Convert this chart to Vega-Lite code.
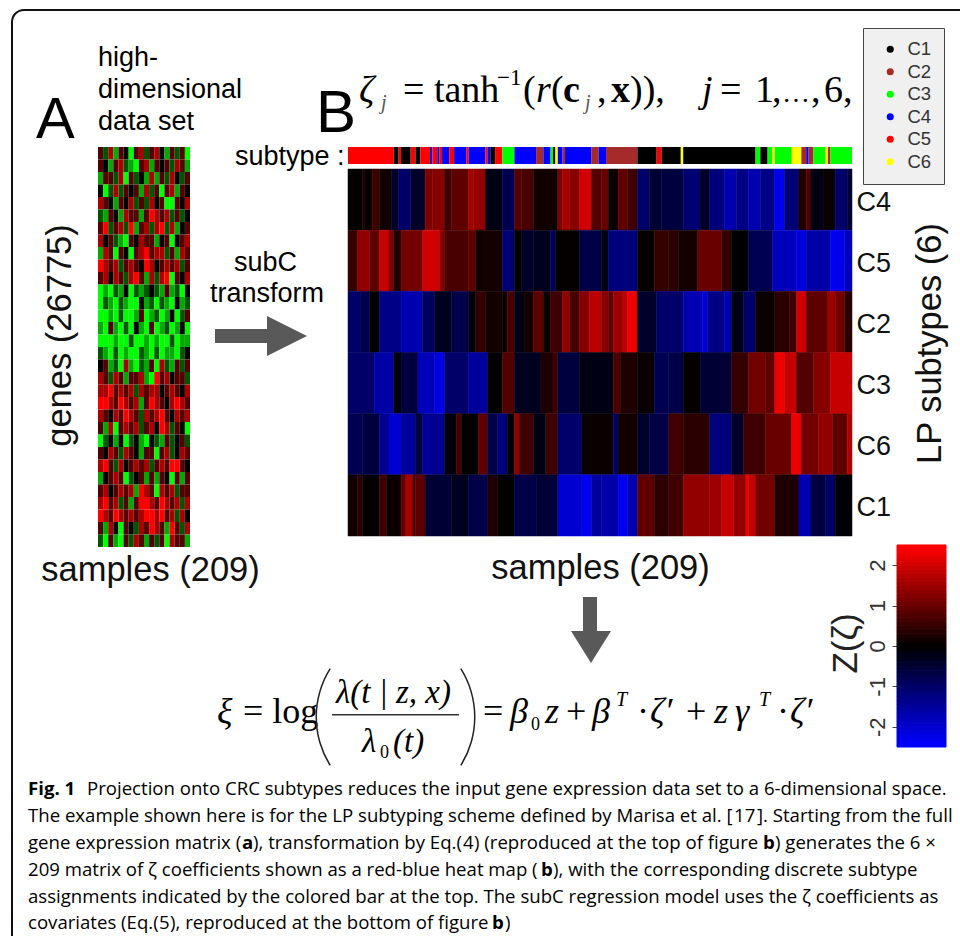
{"$schema":"https://vega.github.io/schema/vega-lite/v6.json","width":960,"height":936,"padding":0,"autosize":{"type":"none"},"background":"white",
"config":{"view":{"stroke":null},"style":{
"cap":{"font":"Open Sans","fontSize":18.6,"fill":"#444444","align":"left","baseline":"alphabetic"},
"capb":{"font":"Open Sans","fontSize":18.6,"fontWeight":"bold","fill":"#222","align":"left","baseline":"alphabetic"},
"capl":{"font":"Open Sans","fontSize":18.6,"fill":"#3355cc","align":"left","baseline":"alphabetic"},
"lab":{"font":"Liberation Sans","fontSize":27,"fill":"#111","align":"left","baseline":"alphabetic"},
"eq":{"font":"Liberation Serif","fontSize":38,"fill":"#111","align":"left","baseline":"alphabetic"},
"eqi":{"font":"Liberation Serif","fontStyle":"italic","fontSize":38,"fill":"#111","align":"left","baseline":"alphabetic"},
"eqb":{"font":"Liberation Serif","fontWeight":"bold","fontSize":38,"fill":"#111","align":"left","baseline":"alphabetic"}
}},
"data":{"values":[{}]},
"resolve":{"scale":{"x":"independent","y":"independent","color":"independent"}},
"layer":[
{"mark":{"type":"rect","x":12,"y":10,"x2":1000,"y2":1000,"cornerRadius":12,"fillOpacity":0,"stroke":"#111","strokeWidth":2},"encoding":{}},
{"data":{"values":[
{"g":1,"c":1,"v":1},{"g":1,"c":2,"v":-1},{"g":1,"c":3,"v":2},{"g":1,"c":4,"v":-2},{"g":1,"c":5,"v":1},{"g":1,"c":6,"v":0},{"g":1,"c":7,"v":-3},{"g":1,"c":8,"v":1},{"g":1,"c":9,"v":2},{"g":1,"c":10,"v":-1},{"g":1,"c":11,"v":1},{"g":1,"c":12,"v":2},{"g":1,"c":13,"v":0},{"g":1,"c":14,"v":-2},{"g":1,"c":15,"v":1},{"g":1,"c":16,"v":-1},{"g":1,"c":17,"v":1},{"g":1,"c":18,"v":-3},
{"g":2,"c":1,"v":1},{"g":2,"c":2,"v":0},{"g":2,"c":3,"v":-2},{"g":2,"c":4,"v":1},{"g":2,"c":5,"v":2},{"g":2,"c":6,"v":-1},{"g":2,"c":7,"v":-2},{"g":2,"c":8,"v":-3},{"g":2,"c":9,"v":1},{"g":2,"c":10,"v":2},{"g":2,"c":11,"v":-2},{"g":2,"c":12,"v":1},{"g":2,"c":13,"v":0},{"g":2,"c":14,"v":1},{"g":2,"c":15,"v":-1},{"g":2,"c":16,"v":2},{"g":2,"c":17,"v":1},{"g":2,"c":18,"v":-2},
{"g":3,"c":1,"v":-2},{"g":3,"c":2,"v":1},{"g":3,"c":3,"v":1},{"g":3,"c":4,"v":-1},{"g":3,"c":5,"v":2},{"g":3,"c":6,"v":-3},{"g":3,"c":7,"v":1},{"g":3,"c":8,"v":-1},{"g":3,"c":9,"v":0},{"g":3,"c":10,"v":-2},{"g":3,"c":11,"v":2},{"g":3,"c":12,"v":-2},{"g":3,"c":13,"v":1},{"g":3,"c":14,"v":-1},{"g":3,"c":15,"v":2},{"g":3,"c":16,"v":0},{"g":3,"c":17,"v":-1},{"g":3,"c":18,"v":1},
{"g":4,"c":1,"v":0},{"g":4,"c":2,"v":-3},{"g":4,"c":3,"v":-1},{"g":4,"c":4,"v":2},{"g":4,"c":5,"v":-1},{"g":4,"c":6,"v":1},{"g":4,"c":7,"v":0},{"g":4,"c":8,"v":1},{"g":4,"c":9,"v":-2},{"g":4,"c":10,"v":2},{"g":4,"c":11,"v":-1},{"g":4,"c":12,"v":1},{"g":4,"c":13,"v":-3},{"g":4,"c":14,"v":1},{"g":4,"c":15,"v":2},{"g":4,"c":16,"v":-2},{"g":4,"c":17,"v":1},{"g":4,"c":18,"v":0},
{"g":5,"c":1,"v":2},{"g":5,"c":2,"v":1},{"g":5,"c":3,"v":0},{"g":5,"c":4,"v":-2},{"g":5,"c":5,"v":1},{"g":5,"c":6,"v":0},{"g":5,"c":7,"v":2},{"g":5,"c":8,"v":-1},{"g":5,"c":9,"v":1},{"g":5,"c":10,"v":-1},{"g":5,"c":11,"v":2},{"g":5,"c":12,"v":0},{"g":5,"c":13,"v":1},{"g":5,"c":14,"v":-3},{"g":5,"c":15,"v":-3},{"g":5,"c":16,"v":1},{"g":5,"c":17,"v":0},{"g":5,"c":18,"v":2},
{"g":6,"c":1,"v":-1},{"g":6,"c":2,"v":-2},{"g":6,"c":3,"v":1},{"g":6,"c":4,"v":0},{"g":6,"c":5,"v":-2},{"g":6,"c":6,"v":2},{"g":6,"c":7,"v":1},{"g":6,"c":8,"v":1},{"g":6,"c":9,"v":-2},{"g":6,"c":10,"v":1},{"g":6,"c":11,"v":3},{"g":6,"c":12,"v":2},{"g":6,"c":13,"v":1},{"g":6,"c":14,"v":2},{"g":6,"c":15,"v":-1},{"g":6,"c":16,"v":1},{"g":6,"c":17,"v":-1},{"g":6,"c":18,"v":0},
{"g":7,"c":1,"v":1},{"g":7,"c":2,"v":3},{"g":7,"c":3,"v":-1},{"g":7,"c":4,"v":1},{"g":7,"c":5,"v":2},{"g":7,"c":6,"v":-1},{"g":7,"c":7,"v":3},{"g":7,"c":8,"v":-2},{"g":7,"c":9,"v":1},{"g":7,"c":10,"v":2},{"g":7,"c":11,"v":-1},{"g":7,"c":12,"v":2},{"g":7,"c":13,"v":3},{"g":7,"c":14,"v":-1},{"g":7,"c":15,"v":2},{"g":7,"c":16,"v":-2},{"g":7,"c":17,"v":0},{"g":7,"c":18,"v":1},
{"g":8,"c":1,"v":2},{"g":8,"c":2,"v":0},{"g":8,"c":3,"v":1},{"g":8,"c":4,"v":-1},{"g":8,"c":5,"v":-2},{"g":8,"c":6,"v":-3},{"g":8,"c":7,"v":1},{"g":8,"c":8,"v":0},{"g":8,"c":9,"v":2},{"g":8,"c":10,"v":1},{"g":8,"c":11,"v":1},{"g":8,"c":12,"v":-2},{"g":8,"c":13,"v":0},{"g":8,"c":14,"v":1},{"g":8,"c":15,"v":-3},{"g":8,"c":16,"v":0},{"g":8,"c":17,"v":1},{"g":8,"c":18,"v":2},
{"g":9,"c":1,"v":-2},{"g":9,"c":2,"v":2},{"g":9,"c":3,"v":1},{"g":9,"c":4,"v":-3},{"g":9,"c":5,"v":1},{"g":9,"c":6,"v":0},{"g":9,"c":7,"v":-3},{"g":9,"c":8,"v":1},{"g":9,"c":9,"v":2},{"g":9,"c":10,"v":3},{"g":9,"c":11,"v":1},{"g":9,"c":12,"v":2},{"g":9,"c":13,"v":2},{"g":9,"c":14,"v":-1},{"g":9,"c":15,"v":1},{"g":9,"c":16,"v":-2},{"g":9,"c":17,"v":2},{"g":9,"c":18,"v":1},
{"g":10,"c":1,"v":3},{"g":10,"c":2,"v":2},{"g":10,"c":3,"v":1},{"g":10,"c":4,"v":2},{"g":10,"c":5,"v":-1},{"g":10,"c":6,"v":1},{"g":10,"c":7,"v":2},{"g":10,"c":8,"v":1},{"g":10,"c":9,"v":0},{"g":10,"c":10,"v":3},{"g":10,"c":11,"v":2},{"g":10,"c":12,"v":0},{"g":10,"c":13,"v":1},{"g":10,"c":14,"v":2},{"g":10,"c":15,"v":1},{"g":10,"c":16,"v":2},{"g":10,"c":17,"v":-1},{"g":10,"c":18,"v":1},
{"g":11,"c":1,"v":1},{"g":11,"c":2,"v":2},{"g":11,"c":3,"v":0},{"g":11,"c":4,"v":2},{"g":11,"c":5,"v":1},{"g":11,"c":6,"v":-1},{"g":11,"c":7,"v":2},{"g":11,"c":8,"v":3},{"g":11,"c":9,"v":1},{"g":11,"c":10,"v":-2},{"g":11,"c":11,"v":2},{"g":11,"c":12,"v":-1},{"g":11,"c":13,"v":2},{"g":11,"c":14,"v":3},{"g":11,"c":15,"v":-3},{"g":11,"c":16,"v":1},{"g":11,"c":17,"v":0},{"g":11,"c":18,"v":2},
{"g":12,"c":1,"v":-3},{"g":12,"c":2,"v":-2},{"g":12,"c":3,"v":-3},{"g":12,"c":4,"v":-1},{"g":12,"c":5,"v":-2},{"g":12,"c":6,"v":0},{"g":12,"c":7,"v":-3},{"g":12,"c":8,"v":-1},{"g":12,"c":9,"v":-2},{"g":12,"c":10,"v":-1},{"g":12,"c":11,"v":0},{"g":12,"c":12,"v":-1},{"g":12,"c":13,"v":-2},{"g":12,"c":14,"v":1},{"g":12,"c":15,"v":-2},{"g":12,"c":16,"v":-1},{"g":12,"c":17,"v":-3},{"g":12,"c":18,"v":0},
{"g":13,"c":1,"v":-3},{"g":13,"c":2,"v":-1},{"g":13,"c":3,"v":-2},{"g":13,"c":4,"v":-3},{"g":13,"c":5,"v":-1},{"g":13,"c":6,"v":-2},{"g":13,"c":7,"v":-3},{"g":13,"c":8,"v":-3},{"g":13,"c":9,"v":0},{"g":13,"c":10,"v":-2},{"g":13,"c":11,"v":-1},{"g":13,"c":12,"v":-3},{"g":13,"c":13,"v":-1},{"g":13,"c":14,"v":-2},{"g":13,"c":15,"v":-3},{"g":13,"c":16,"v":0},{"g":13,"c":17,"v":-2},{"g":13,"c":18,"v":-1},
{"g":14,"c":1,"v":-3},{"g":14,"c":2,"v":-3},{"g":14,"c":3,"v":-2},{"g":14,"c":4,"v":-3},{"g":14,"c":5,"v":-1},{"g":14,"c":6,"v":-3},{"g":14,"c":7,"v":-3},{"g":14,"c":8,"v":-2},{"g":14,"c":9,"v":1},{"g":14,"c":10,"v":-3},{"g":14,"c":11,"v":-2},{"g":14,"c":12,"v":-1},{"g":14,"c":13,"v":-3},{"g":14,"c":14,"v":-2},{"g":14,"c":15,"v":0},{"g":14,"c":16,"v":-3},{"g":14,"c":17,"v":-1},{"g":14,"c":18,"v":1},
{"g":15,"c":1,"v":-2},{"g":15,"c":2,"v":-3},{"g":15,"c":3,"v":1},{"g":15,"c":4,"v":-2},{"g":15,"c":5,"v":-3},{"g":15,"c":6,"v":-1},{"g":15,"c":7,"v":-3},{"g":15,"c":8,"v":0},{"g":15,"c":9,"v":-2},{"g":15,"c":10,"v":-3},{"g":15,"c":11,"v":1},{"g":15,"c":12,"v":-3},{"g":15,"c":13,"v":-2},{"g":15,"c":14,"v":-1},{"g":15,"c":15,"v":-3},{"g":15,"c":16,"v":-2},{"g":15,"c":17,"v":0},{"g":15,"c":18,"v":-3},
{"g":16,"c":1,"v":-3},{"g":16,"c":2,"v":-3},{"g":16,"c":3,"v":-3},{"g":16,"c":4,"v":-2},{"g":16,"c":5,"v":-3},{"g":16,"c":6,"v":-3},{"g":16,"c":7,"v":-1},{"g":16,"c":8,"v":-3},{"g":16,"c":9,"v":-3},{"g":16,"c":10,"v":-2},{"g":16,"c":11,"v":-3},{"g":16,"c":12,"v":-2},{"g":16,"c":13,"v":-3},{"g":16,"c":14,"v":-3},{"g":16,"c":15,"v":-1},{"g":16,"c":16,"v":-3},{"g":16,"c":17,"v":-2},{"g":16,"c":18,"v":-2},
{"g":17,"c":1,"v":-1},{"g":17,"c":2,"v":-2},{"g":17,"c":3,"v":-3},{"g":17,"c":4,"v":-1},{"g":17,"c":5,"v":-3},{"g":17,"c":6,"v":-2},{"g":17,"c":7,"v":-3},{"g":17,"c":8,"v":-3},{"g":17,"c":9,"v":-1},{"g":17,"c":10,"v":-2},{"g":17,"c":11,"v":-3},{"g":17,"c":12,"v":-1},{"g":17,"c":13,"v":-3},{"g":17,"c":14,"v":-2},{"g":17,"c":15,"v":-2},{"g":17,"c":16,"v":-3},{"g":17,"c":17,"v":-1},{"g":17,"c":18,"v":0},
{"g":18,"c":1,"v":0},{"g":18,"c":2,"v":1},{"g":18,"c":3,"v":-2},{"g":18,"c":4,"v":-1},{"g":18,"c":5,"v":-3},{"g":18,"c":6,"v":2},{"g":18,"c":7,"v":-2},{"g":18,"c":8,"v":-3},{"g":18,"c":9,"v":-1},{"g":18,"c":10,"v":-2},{"g":18,"c":11,"v":1},{"g":18,"c":12,"v":-3},{"g":18,"c":13,"v":2},{"g":18,"c":14,"v":-1},{"g":18,"c":15,"v":-2},{"g":18,"c":16,"v":1},{"g":18,"c":17,"v":-1},{"g":18,"c":18,"v":1},
{"g":19,"c":1,"v":2},{"g":19,"c":2,"v":1},{"g":19,"c":3,"v":-1},{"g":19,"c":4,"v":2},{"g":19,"c":5,"v":1},{"g":19,"c":6,"v":-2},{"g":19,"c":7,"v":1},{"g":19,"c":8,"v":1},{"g":19,"c":9,"v":2},{"g":19,"c":10,"v":-2},{"g":19,"c":11,"v":-3},{"g":19,"c":12,"v":3},{"g":19,"c":13,"v":1},{"g":19,"c":14,"v":2},{"g":19,"c":15,"v":0},{"g":19,"c":16,"v":1},{"g":19,"c":17,"v":1},{"g":19,"c":18,"v":-1},
{"g":20,"c":1,"v":2},{"g":20,"c":2,"v":2},{"g":20,"c":3,"v":3},{"g":20,"c":4,"v":1},{"g":20,"c":5,"v":2},{"g":20,"c":6,"v":1},{"g":20,"c":7,"v":2},{"g":20,"c":8,"v":-1},{"g":20,"c":9,"v":2},{"g":20,"c":10,"v":1},{"g":20,"c":11,"v":2},{"g":20,"c":12,"v":2},{"g":20,"c":13,"v":0},{"g":20,"c":14,"v":1},{"g":20,"c":15,"v":2},{"g":20,"c":16,"v":1},{"g":20,"c":17,"v":0},{"g":20,"c":18,"v":2},
{"g":21,"c":1,"v":3},{"g":21,"c":2,"v":3},{"g":21,"c":3,"v":2},{"g":21,"c":4,"v":1},{"g":21,"c":5,"v":3},{"g":21,"c":6,"v":2},{"g":21,"c":7,"v":1},{"g":21,"c":8,"v":2},{"g":21,"c":9,"v":-2},{"g":21,"c":10,"v":1},{"g":21,"c":11,"v":3},{"g":21,"c":12,"v":2},{"g":21,"c":13,"v":1},{"g":21,"c":14,"v":0},{"g":21,"c":15,"v":2},{"g":21,"c":16,"v":3},{"g":21,"c":17,"v":2},{"g":21,"c":18,"v":1},
{"g":22,"c":1,"v":2},{"g":22,"c":2,"v":1},{"g":22,"c":3,"v":0},{"g":22,"c":4,"v":2},{"g":22,"c":5,"v":1},{"g":22,"c":6,"v":3},{"g":22,"c":7,"v":2},{"g":22,"c":8,"v":1},{"g":22,"c":9,"v":-1},{"g":22,"c":10,"v":2},{"g":22,"c":11,"v":1},{"g":22,"c":12,"v":2},{"g":22,"c":13,"v":3},{"g":22,"c":14,"v":1},{"g":22,"c":15,"v":0},{"g":22,"c":16,"v":2},{"g":22,"c":17,"v":1},{"g":22,"c":18,"v":2},
{"g":23,"c":1,"v":1},{"g":23,"c":2,"v":-2},{"g":23,"c":3,"v":2},{"g":23,"c":4,"v":-3},{"g":23,"c":5,"v":1},{"g":23,"c":6,"v":2},{"g":23,"c":7,"v":1},{"g":23,"c":8,"v":2},{"g":23,"c":9,"v":-1},{"g":23,"c":10,"v":1},{"g":23,"c":11,"v":2},{"g":23,"c":12,"v":0},{"g":23,"c":13,"v":3},{"g":23,"c":14,"v":2},{"g":23,"c":15,"v":-1},{"g":23,"c":16,"v":1},{"g":23,"c":17,"v":0},{"g":23,"c":18,"v":-3},
{"g":24,"c":1,"v":-3},{"g":24,"c":2,"v":-1},{"g":24,"c":3,"v":0},{"g":24,"c":4,"v":-2},{"g":24,"c":5,"v":0},{"g":24,"c":6,"v":-3},{"g":24,"c":7,"v":-1},{"g":24,"c":8,"v":0},{"g":24,"c":9,"v":-2},{"g":24,"c":10,"v":-3},{"g":24,"c":11,"v":0},{"g":24,"c":12,"v":-1},{"g":24,"c":13,"v":-2},{"g":24,"c":14,"v":1},{"g":24,"c":15,"v":-1},{"g":24,"c":16,"v":0},{"g":24,"c":17,"v":1},{"g":24,"c":18,"v":-1},
{"g":25,"c":1,"v":1},{"g":25,"c":2,"v":0},{"g":25,"c":3,"v":2},{"g":25,"c":4,"v":1},{"g":25,"c":5,"v":-1},{"g":25,"c":6,"v":2},{"g":25,"c":7,"v":1},{"g":25,"c":8,"v":0},{"g":25,"c":9,"v":-2},{"g":25,"c":10,"v":1},{"g":25,"c":11,"v":1},{"g":25,"c":12,"v":-3},{"g":25,"c":13,"v":1},{"g":25,"c":14,"v":2},{"g":25,"c":15,"v":-1},{"g":25,"c":16,"v":0},{"g":25,"c":17,"v":2},{"g":25,"c":18,"v":1},
{"g":26,"c":1,"v":2},{"g":26,"c":2,"v":3},{"g":26,"c":3,"v":1},{"g":26,"c":4,"v":-1},{"g":26,"c":5,"v":2},{"g":26,"c":6,"v":0},{"g":26,"c":7,"v":1},{"g":26,"c":8,"v":2},{"g":26,"c":9,"v":1},{"g":26,"c":10,"v":2},{"g":26,"c":11,"v":-1},{"g":26,"c":12,"v":1},{"g":26,"c":13,"v":2},{"g":26,"c":14,"v":1},{"g":26,"c":15,"v":3},{"g":26,"c":16,"v":3},{"g":26,"c":17,"v":1},{"g":26,"c":18,"v":0},
{"g":27,"c":1,"v":-2},{"g":27,"c":2,"v":0},{"g":27,"c":3,"v":1},{"g":27,"c":4,"v":2},{"g":27,"c":5,"v":1},{"g":27,"c":6,"v":-3},{"g":27,"c":7,"v":-1},{"g":27,"c":8,"v":0},{"g":27,"c":9,"v":1},{"g":27,"c":10,"v":-2},{"g":27,"c":11,"v":1},{"g":27,"c":12,"v":-2},{"g":27,"c":13,"v":1},{"g":27,"c":14,"v":0},{"g":27,"c":15,"v":-3},{"g":27,"c":16,"v":1},{"g":27,"c":17,"v":-2},{"g":27,"c":18,"v":1},
{"g":28,"c":1,"v":1},{"g":28,"c":2,"v":2},{"g":28,"c":3,"v":0},{"g":28,"c":4,"v":1},{"g":28,"c":5,"v":2},{"g":28,"c":6,"v":1},{"g":28,"c":7,"v":2},{"g":28,"c":8,"v":-2},{"g":28,"c":9,"v":3},{"g":28,"c":10,"v":2},{"g":28,"c":11,"v":1},{"g":28,"c":12,"v":-3},{"g":28,"c":13,"v":2},{"g":28,"c":14,"v":1},{"g":28,"c":15,"v":2},{"g":28,"c":16,"v":-1},{"g":28,"c":17,"v":1},{"g":28,"c":18,"v":1},
{"g":29,"c":1,"v":2},{"g":29,"c":2,"v":3},{"g":29,"c":3,"v":1},{"g":29,"c":4,"v":2},{"g":29,"c":5,"v":-1},{"g":29,"c":6,"v":1},{"g":29,"c":7,"v":-2},{"g":29,"c":8,"v":1},{"g":29,"c":9,"v":3},{"g":29,"c":10,"v":3},{"g":29,"c":11,"v":2},{"g":29,"c":12,"v":1},{"g":29,"c":13,"v":3},{"g":29,"c":14,"v":2},{"g":29,"c":15,"v":1},{"g":29,"c":16,"v":2},{"g":29,"c":17,"v":-1},{"g":29,"c":18,"v":2},
{"g":30,"c":1,"v":3},{"g":30,"c":2,"v":2},{"g":30,"c":3,"v":1},{"g":30,"c":4,"v":3},{"g":30,"c":5,"v":2},{"g":30,"c":6,"v":1},{"g":30,"c":7,"v":2},{"g":30,"c":8,"v":1},{"g":30,"c":9,"v":2},{"g":30,"c":10,"v":3},{"g":30,"c":11,"v":3},{"g":30,"c":12,"v":2},{"g":30,"c":13,"v":3},{"g":30,"c":14,"v":1},{"g":30,"c":15,"v":2},{"g":30,"c":16,"v":-1},{"g":30,"c":17,"v":2},{"g":30,"c":18,"v":0},
{"g":31,"c":1,"v":1},{"g":31,"c":2,"v":-2},{"g":31,"c":3,"v":2},{"g":31,"c":4,"v":0},{"g":31,"c":5,"v":-3},{"g":31,"c":6,"v":1},{"g":31,"c":7,"v":0},{"g":31,"c":8,"v":-1},{"g":31,"c":9,"v":2},{"g":31,"c":10,"v":1},{"g":31,"c":11,"v":3},{"g":31,"c":12,"v":2},{"g":31,"c":13,"v":1},{"g":31,"c":14,"v":-2},{"g":31,"c":15,"v":3},{"g":31,"c":16,"v":1},{"g":31,"c":17,"v":-1},{"g":31,"c":18,"v":2},
{"g":32,"c":1,"v":-1},{"g":32,"c":2,"v":-3},{"g":32,"c":3,"v":1},{"g":32,"c":4,"v":-2},{"g":32,"c":5,"v":-3},{"g":32,"c":6,"v":1},{"g":32,"c":7,"v":-1},{"g":32,"c":8,"v":2},{"g":32,"c":9,"v":1},{"g":32,"c":10,"v":-2},{"g":32,"c":11,"v":1},{"g":32,"c":12,"v":-1},{"g":32,"c":13,"v":1},{"g":32,"c":14,"v":-3},{"g":32,"c":15,"v":2},{"g":32,"c":16,"v":1},{"g":32,"c":17,"v":1},{"g":32,"c":18,"v":-2}
]},"mark":{"type":"rect"},"encoding":{
"x":{"field":"c","type":"ordinal","scale":{"range":[98,190],"paddingInner":0,"paddingOuter":0},"axis":{"orient":"bottom","offset":-389,"domain":false,"ticks":false,"labels":false,"title":"samples (209)","titleFont":"Liberation Sans","titleFontWeight":"normal","titleFontSize":34.5,"titleColor":"#111","titleX":150,"titleY":23,"titleBaseline":"middle","titleAlign":"center"}},
"y":{"field":"g","type":"ordinal","scale":{"range":[147,547],"paddingInner":0,"paddingOuter":0},"axis":{"orient":"left","offset":-98,"domain":false,"ticks":false,"labels":false,"title":"genes (26775)","titleFont":"Liberation Sans","titleFontWeight":"normal","titleFontSize":34.5,"titleColor":"#111","titleX":-38,"titleY":335,"titleAngle":-90,"titleBaseline":"middle","titleAlign":"center"}},
"color":{"field":"v","type":"quantitative","scale":{"domain":[-3,0,3],"range":["#00ff00","#000000","#ff0000"],"interpolate":"rgb"},"legend":null}}},
{"data":{"values":[
{"t":"C5","a":0,"b":19},{"t":"C1","a":19,"b":21},{"t":"C5","a":21,"b":22},{"t":"C1","a":22,"b":26},{"t":"C5","a":26,"b":28},{"t":"C1","a":28,"b":30},{"t":"C5","a":30,"b":34},{"t":"C4","a":34,"b":35},{"t":"C5","a":35,"b":37},{"t":"C4","a":37,"b":38},{"t":"C5","a":38,"b":39},{"t":"C4","a":39,"b":42},{"t":"C5","a":42,"b":44},{"t":"C4","a":44,"b":49},{"t":"C5","a":49,"b":50},{"t":"C4","a":50,"b":57},{"t":"C5","a":57,"b":58},{"t":"C4","a":58,"b":59},{"t":"C1","a":59,"b":61},{"t":"C5","a":61,"b":64},{"t":"C3","a":64,"b":69},{"t":"C4","a":69,"b":78},{"t":"C2","a":78,"b":81},{"t":"C4","a":81,"b":84},{"t":"C3","a":84,"b":85},{"t":"C1","a":85,"b":86},{"t":"C6","a":86,"b":87},{"t":"C4","a":87,"b":89},{"t":"C2","a":89,"b":90},{"t":"C4","a":90,"b":101},{"t":"C2","a":101,"b":104},{"t":"C4","a":104,"b":107},{"t":"C2","a":107,"b":120},{"t":"C1","a":120,"b":128},{"t":"C5","a":128,"b":130},{"t":"C1","a":130,"b":138},{"t":"C6","a":138,"b":139},{"t":"C1","a":139,"b":169},{"t":"C3","a":169,"b":171},{"t":"C1","a":171,"b":174},{"t":"C3","a":174,"b":176},{"t":"C6","a":176,"b":177},{"t":"C3","a":177,"b":184},{"t":"C6","a":184,"b":188},{"t":"C2","a":188,"b":190},{"t":"C4","a":190,"b":191},{"t":"C2","a":191,"b":193},{"t":"C3","a":193,"b":198},{"t":"C6","a":198,"b":199},{"t":"C2","a":199,"b":200},{"t":"C3","a":200,"b":209}
]},"mark":{"type":"rect"},"encoding":{
"x":{"field":"a","type":"quantitative","scale":{"domain":[0,209],"range":[348,852],"nice":false,"zero":false},"axis":null},"x2":{"field":"b"},
"y":{"datum":"bar","type":"nominal","scale":{"domain":["bar"],"range":[147,164],"paddingInner":0,"paddingOuter":0},"axis":null},
"color":{"field":"t","type":"nominal","scale":{"domain":["C1","C2","C3","C4","C5","C6"],"range":["#000000","#a52a2a","#00ff00","#0000ff","#ff0000","#ffff00"]},
"legend":{"orient":"none","legendX":863,"legendY":28,"title":null,"padding":12,"fillColor":"#f0f0f0","strokeColor":"#444","symbolType":"circle","symbolSize":50,"symbolOffset":6,"labelFont":"Liberation Sans","labelFontSize":18.5,"labelColor":"#333","labelOffset":8,"rowPadding":3.5}}}},
{"data":{"values":[
{"r":"C4","a":0,"b":6,"z":0.05},{"r":"C4","a":6,"b":7,"z":0.25},{"r":"C4","a":7,"b":10,"z":0.1},{"r":"C4","a":10,"b":13,"z":0.6},{"r":"C4","a":13,"b":18,"z":0.15},{"r":"C4","a":18,"b":21,"z":-0.4},{"r":"C4","a":21,"b":26,"z":-1},{"r":"C4","a":26,"b":32,"z":-0.4},{"r":"C4","a":32,"b":35,"z":1.2},{"r":"C4","a":35,"b":40,"z":1.3},{"r":"C4","a":40,"b":43,"z":0.6},{"r":"C4","a":43,"b":50,"z":0.9},{"r":"C4","a":50,"b":52,"z":1.6},{"r":"C4","a":52,"b":57,"z":1.4},{"r":"C4","a":57,"b":64,"z":-0.2},{"r":"C4","a":64,"b":69,"z":-0.8},{"r":"C4","a":69,"b":72,"z":0.8},{"r":"C4","a":72,"b":77,"z":0.7},{"r":"C4","a":77,"b":87,"z":0.15},{"r":"C4","a":87,"b":89,"z":1.2},{"r":"C4","a":89,"b":92,"z":1.6},{"r":"C4","a":92,"b":96,"z":1.3},{"r":"C4","a":96,"b":101,"z":2},{"r":"C4","a":101,"b":105,"z":0.8},{"r":"C4","a":105,"b":108,"z":1},{"r":"C4","a":108,"b":112,"z":0.1},{"r":"C4","a":112,"b":116,"z":0.9},{"r":"C4","a":116,"b":120,"z":0.6},{"r":"C4","a":120,"b":125,"z":-1},{"r":"C4","a":125,"b":130,"z":-0.5},{"r":"C4","a":130,"b":139,"z":-0.6},{"r":"C4","a":139,"b":146,"z":-1.1},{"r":"C4","a":146,"b":150,"z":-0.4},{"r":"C4","a":150,"b":156,"z":-1.2},{"r":"C4","a":156,"b":161,"z":-1.7},{"r":"C4","a":161,"b":166,"z":-1.3},{"r":"C4","a":166,"b":171,"z":-1.7},{"r":"C4","a":171,"b":177,"z":-1.3},{"r":"C4","a":177,"b":181,"z":-2.3},{"r":"C4","a":181,"b":187,"z":-1.1},{"r":"C4","a":187,"b":190,"z":0.3},{"r":"C4","a":190,"b":192,"z":0.8},{"r":"C4","a":192,"b":197,"z":-0.2},{"r":"C4","a":197,"b":202,"z":0.1},{"r":"C4","a":202,"b":207,"z":-1},{"r":"C4","a":207,"b":209,"z":-0.5},
{"r":"C5","a":0,"b":4,"z":0.5},{"r":"C5","a":4,"b":9,"z":1.4},{"r":"C5","a":9,"b":13,"z":0.9},{"r":"C5","a":13,"b":17,"z":1.9},{"r":"C5","a":17,"b":19,"z":1.2},{"r":"C5","a":19,"b":22,"z":0.3},{"r":"C5","a":22,"b":31,"z":1.1},{"r":"C5","a":31,"b":38,"z":2},{"r":"C5","a":38,"b":40,"z":1.3},{"r":"C5","a":40,"b":50,"z":0.7},{"r":"C5","a":50,"b":53,"z":0.9},{"r":"C5","a":53,"b":56,"z":0.15},{"r":"C5","a":56,"b":64,"z":0.2},{"r":"C5","a":64,"b":69,"z":-1.1},{"r":"C5","a":69,"b":72,"z":0},{"r":"C5","a":72,"b":77,"z":-0.4},{"r":"C5","a":77,"b":84,"z":-0.3},{"r":"C5","a":84,"b":86,"z":-0.9},{"r":"C5","a":86,"b":96,"z":0.05},{"r":"C5","a":96,"b":105,"z":-0.7},{"r":"C5","a":105,"b":108,"z":-0.2},{"r":"C5","a":108,"b":120,"z":-1.2},{"r":"C5","a":120,"b":127,"z":0.05},{"r":"C5","a":127,"b":133,"z":0.5},{"r":"C5","a":133,"b":137,"z":0.4},{"r":"C5","a":137,"b":145,"z":0.2},{"r":"C5","a":145,"b":155,"z":1},{"r":"C5","a":155,"b":159,"z":0.5},{"r":"C5","a":159,"b":166,"z":0},{"r":"C5","a":166,"b":176,"z":-0.8},{"r":"C5","a":176,"b":186,"z":-1.8},{"r":"C5","a":186,"b":190,"z":-2.1},{"r":"C5","a":190,"b":200,"z":-1.6},{"r":"C5","a":200,"b":206,"z":-2.3},{"r":"C5","a":206,"b":209,"z":-1.8},
{"r":"C2","a":0,"b":5,"z":-1},{"r":"C2","a":5,"b":9,"z":-0.8},{"r":"C2","a":9,"b":13,"z":0},{"r":"C2","a":13,"b":22,"z":-1.3},{"r":"C2","a":22,"b":31,"z":-1.7},{"r":"C2","a":31,"b":36,"z":-0.9},{"r":"C2","a":36,"b":43,"z":-0.3},{"r":"C2","a":43,"b":50,"z":-0.7},{"r":"C2","a":50,"b":53,"z":-0.1},{"r":"C2","a":53,"b":57,"z":0.5},{"r":"C2","a":57,"b":64,"z":0.2},{"r":"C2","a":64,"b":66,"z":0.1},{"r":"C2","a":66,"b":69,"z":0.7},{"r":"C2","a":69,"b":73,"z":-0.2},{"r":"C2","a":73,"b":77,"z":0.2},{"r":"C2","a":77,"b":81,"z":0.9},{"r":"C2","a":81,"b":84,"z":0.1},{"r":"C2","a":84,"b":89,"z":0.6},{"r":"C2","a":89,"b":92,"z":1.4},{"r":"C2","a":92,"b":96,"z":0.7},{"r":"C2","a":96,"b":100,"z":1.3},{"r":"C2","a":100,"b":105,"z":1.8},{"r":"C2","a":105,"b":108,"z":1.3},{"r":"C2","a":108,"b":110,"z":0.9},{"r":"C2","a":110,"b":114,"z":1.5},{"r":"C2","a":114,"b":116,"z":1.8},{"r":"C2","a":116,"b":120,"z":2.3},{"r":"C2","a":120,"b":128,"z":-0.4},{"r":"C2","a":128,"b":139,"z":-1},{"r":"C2","a":139,"b":147,"z":-1.7},{"r":"C2","a":147,"b":149,"z":-2.1},{"r":"C2","a":149,"b":156,"z":-1.3},{"r":"C2","a":156,"b":159,"z":-1.7},{"r":"C2","a":159,"b":164,"z":-0.2},{"r":"C2","a":164,"b":169,"z":-1},{"r":"C2","a":169,"b":177,"z":0.1},{"r":"C2","a":177,"b":183,"z":0.4},{"r":"C2","a":183,"b":186,"z":0.6},{"r":"C2","a":186,"b":190,"z":2},{"r":"C2","a":190,"b":199,"z":0.9},{"r":"C2","a":199,"b":202,"z":1.5},{"r":"C2","a":202,"b":206,"z":1.1},{"r":"C2","a":206,"b":209,"z":0.4},
{"r":"C3","a":0,"b":11,"z":-1},{"r":"C3","a":11,"b":19,"z":-1.6},{"r":"C3","a":19,"b":22,"z":-0.1},{"r":"C3","a":22,"b":29,"z":-0.6},{"r":"C3","a":29,"b":36,"z":-1.8},{"r":"C3","a":36,"b":40,"z":-2.2},{"r":"C3","a":40,"b":50,"z":-1},{"r":"C3","a":50,"b":58,"z":-1.5},{"r":"C3","a":58,"b":64,"z":0},{"r":"C3","a":64,"b":69,"z":0.8},{"r":"C3","a":69,"b":80,"z":-0.3},{"r":"C3","a":80,"b":85,"z":0.3},{"r":"C3","a":85,"b":87,"z":0.6},{"r":"C3","a":87,"b":96,"z":-0.6},{"r":"C3","a":96,"b":110,"z":-0.2},{"r":"C3","a":110,"b":113,"z":0.7},{"r":"C3","a":113,"b":120,"z":0.3},{"r":"C3","a":120,"b":127,"z":0.1},{"r":"C3","a":127,"b":133,"z":-0.8},{"r":"C3","a":133,"b":139,"z":-0.7},{"r":"C3","a":139,"b":146,"z":0.05},{"r":"C3","a":146,"b":159,"z":-0.5},{"r":"C3","a":159,"b":166,"z":0.5},{"r":"C3","a":166,"b":173,"z":1.1},{"r":"C3","a":173,"b":177,"z":0.9},{"r":"C3","a":177,"b":181,"z":2.3},{"r":"C3","a":181,"b":186,"z":1.9},{"r":"C3","a":186,"b":193,"z":0.8},{"r":"C3","a":193,"b":200,"z":1.3},{"r":"C3","a":200,"b":209,"z":1.9},
{"r":"C6","a":0,"b":6,"z":-0.8},{"r":"C6","a":6,"b":13,"z":-0.6},{"r":"C6","a":13,"b":17,"z":-1.4},{"r":"C6","a":17,"b":22,"z":-2},{"r":"C6","a":22,"b":28,"z":-1.5},{"r":"C6","a":28,"b":31,"z":-0.6},{"r":"C6","a":31,"b":40,"z":-1.4},{"r":"C6","a":40,"b":45,"z":-0.1},{"r":"C6","a":45,"b":47,"z":0.7},{"r":"C6","a":47,"b":54,"z":0},{"r":"C6","a":54,"b":58,"z":0.9},{"r":"C6","a":58,"b":62,"z":-0.7},{"r":"C6","a":62,"b":66,"z":-1.2},{"r":"C6","a":66,"b":69,"z":0},{"r":"C6","a":69,"b":71,"z":1.4},{"r":"C6","a":71,"b":77,"z":0.6},{"r":"C6","a":77,"b":82,"z":-0.2},{"r":"C6","a":82,"b":87,"z":0.6},{"r":"C6","a":87,"b":97,"z":-1},{"r":"C6","a":97,"b":110,"z":0.1},{"r":"C6","a":110,"b":112,"z":-1},{"r":"C6","a":112,"b":120,"z":0.15},{"r":"C6","a":120,"b":125,"z":-0.4},{"r":"C6","a":125,"b":133,"z":-0.7},{"r":"C6","a":133,"b":139,"z":0.6},{"r":"C6","a":139,"b":150,"z":0.4},{"r":"C6","a":150,"b":159,"z":-1.2},{"r":"C6","a":159,"b":164,"z":-0.4},{"r":"C6","a":164,"b":173,"z":0.6},{"r":"C6","a":173,"b":184,"z":1},{"r":"C6","a":184,"b":188,"z":2.3},{"r":"C6","a":188,"b":195,"z":1.1},{"r":"C6","a":195,"b":201,"z":1.4},{"r":"C6","a":201,"b":207,"z":0.9},{"r":"C6","a":207,"b":209,"z":1.7},
{"r":"C1","a":0,"b":4,"z":0.15},{"r":"C1","a":4,"b":6,"z":0.4},{"r":"C1","a":6,"b":13,"z":0.05},{"r":"C1","a":13,"b":16,"z":0.6},{"r":"C1","a":16,"b":22,"z":0.1},{"r":"C1","a":22,"b":24,"z":1},{"r":"C1","a":24,"b":27,"z":1.6},{"r":"C1","a":27,"b":28,"z":0.5},{"r":"C1","a":28,"b":32,"z":0.9},{"r":"C1","a":32,"b":43,"z":-0.5},{"r":"C1","a":43,"b":50,"z":-0.3},{"r":"C1","a":50,"b":58,"z":-0.7},{"r":"C1","a":58,"b":62,"z":0.3},{"r":"C1","a":62,"b":69,"z":0.02},{"r":"C1","a":69,"b":78,"z":-0.7},{"r":"C1","a":78,"b":87,"z":-0.5},{"r":"C1","a":87,"b":97,"z":-2},{"r":"C1","a":97,"b":101,"z":-2.3},{"r":"C1","a":101,"b":105,"z":-1.5},{"r":"C1","a":105,"b":112,"z":-1.6},{"r":"C1","a":112,"b":116,"z":-2.3},{"r":"C1","a":116,"b":120,"z":-1.7},{"r":"C1","a":120,"b":127,"z":0.9},{"r":"C1","a":127,"b":133,"z":0.4},{"r":"C1","a":133,"b":139,"z":0.6},{"r":"C1","a":139,"b":150,"z":1.4},{"r":"C1","a":150,"b":155,"z":1.5},{"r":"C1","a":155,"b":160,"z":1.9},{"r":"C1","a":160,"b":165,"z":1.4},{"r":"C1","a":165,"b":166,"z":2.3},{"r":"C1","a":166,"b":169,"z":1.9},{"r":"C1","a":169,"b":177,"z":1.1},{"r":"C1","a":177,"b":187,"z":0.3},{"r":"C1","a":187,"b":192,"z":-1.7},{"r":"C1","a":192,"b":198,"z":-0.6},{"r":"C1","a":198,"b":202,"z":-1},{"r":"C1","a":202,"b":209,"z":-0.05}
]},"mark":{"type":"rect","strokeWidth":0.5},"encoding":{
"x":{"field":"a","type":"quantitative","scale":{"domain":[0,209],"range":[348,852],"nice":false,"zero":false},"axis":{"orient":"bottom","offset":-400,"domain":false,"ticks":false,"labels":false,"grid":false,"title":"samples (209)","titleFont":"Liberation Sans","titleFontWeight":"normal","titleFontSize":34.5,"titleColor":"#111","titleX":600,"titleY":32,"titleBaseline":"middle","titleAlign":"center"}},"x2":{"field":"b"},
"y":{"field":"r","type":"nominal","scale":{"domain":["C4","C5","C2","C3","C6","C1"],"range":[169,536],"paddingInner":0,"paddingOuter":0},"axis":{"orient":"right","offset":-108,"domain":false,"ticks":false,"labelFont":"Liberation Sans","labelFontSize":27,"labelColor":"#111","labelPadding":4,"labelOffset":3,"title":"LP subtypes (6)","titleFont":"Liberation Sans","titleFontWeight":"normal","titleFontSize":34.5,"titleColor":"#111","titleX":78,"titleY":343,"titleAngle":-90,"titleBaseline":"middle","titleAlign":"center"}},
"color":{"field":"z","type":"quantitative","scale":{"domain":[-2.45,0,2.45],"range":["#0000ff","#000000","#ff0000"],"interpolate":"rgb"},"legend":null},
"stroke":{"field":"z","type":"quantitative","scale":{"domain":[-2.45,0,2.45],"range":["#0000ff","#000000","#ff0000"],"interpolate":"rgb"},"legend":null}}},
{"data":{"values":[
{"k":"Z","lo":-2.5,"hi":-2.4,"z":-2.45},{"k":"Z","lo":-2.4,"hi":-2.3,"z":-2.35},{"k":"Z","lo":-2.3,"hi":-2.2,"z":-2.25},{"k":"Z","lo":-2.2,"hi":-2.1,"z":-2.15},{"k":"Z","lo":-2.1,"hi":-2,"z":-2.05},{"k":"Z","lo":-2,"hi":-1.9,"z":-1.95},{"k":"Z","lo":-1.9,"hi":-1.8,"z":-1.85},{"k":"Z","lo":-1.8,"hi":-1.7,"z":-1.75},{"k":"Z","lo":-1.7,"hi":-1.6,"z":-1.65},{"k":"Z","lo":-1.6,"hi":-1.5,"z":-1.55},{"k":"Z","lo":-1.5,"hi":-1.4,"z":-1.45},{"k":"Z","lo":-1.4,"hi":-1.3,"z":-1.35},{"k":"Z","lo":-1.3,"hi":-1.2,"z":-1.25},{"k":"Z","lo":-1.2,"hi":-1.1,"z":-1.15},{"k":"Z","lo":-1.1,"hi":-1,"z":-1.05},{"k":"Z","lo":-1,"hi":-0.9,"z":-0.95},{"k":"Z","lo":-0.9,"hi":-0.8,"z":-0.85},{"k":"Z","lo":-0.8,"hi":-0.7,"z":-0.75},{"k":"Z","lo":-0.7,"hi":-0.6,"z":-0.65},{"k":"Z","lo":-0.6,"hi":-0.5,"z":-0.55},{"k":"Z","lo":-0.5,"hi":-0.4,"z":-0.45},{"k":"Z","lo":-0.4,"hi":-0.3,"z":-0.35},{"k":"Z","lo":-0.3,"hi":-0.2,"z":-0.25},{"k":"Z","lo":-0.2,"hi":-0.1,"z":-0.15},{"k":"Z","lo":-0.1,"hi":0,"z":-0.05},{"k":"Z","lo":0,"hi":0.1,"z":0.05},{"k":"Z","lo":0.1,"hi":0.2,"z":0.15},{"k":"Z","lo":0.2,"hi":0.3,"z":0.25},{"k":"Z","lo":0.3,"hi":0.4,"z":0.35},{"k":"Z","lo":0.4,"hi":0.5,"z":0.45},{"k":"Z","lo":0.5,"hi":0.6,"z":0.55},{"k":"Z","lo":0.6,"hi":0.7,"z":0.65},{"k":"Z","lo":0.7,"hi":0.8,"z":0.75},{"k":"Z","lo":0.8,"hi":0.9,"z":0.85},{"k":"Z","lo":0.9,"hi":1,"z":0.95},{"k":"Z","lo":1,"hi":1.1,"z":1.05},{"k":"Z","lo":1.1,"hi":1.2,"z":1.15},{"k":"Z","lo":1.2,"hi":1.3,"z":1.25},{"k":"Z","lo":1.3,"hi":1.4,"z":1.35},{"k":"Z","lo":1.4,"hi":1.5,"z":1.45},{"k":"Z","lo":1.5,"hi":1.6,"z":1.55},{"k":"Z","lo":1.6,"hi":1.7,"z":1.65},{"k":"Z","lo":1.7,"hi":1.8,"z":1.75},{"k":"Z","lo":1.8,"hi":1.9,"z":1.85},{"k":"Z","lo":1.9,"hi":2,"z":1.95},{"k":"Z","lo":2,"hi":2.1,"z":2.05},{"k":"Z","lo":2.1,"hi":2.2,"z":2.15},{"k":"Z","lo":2.2,"hi":2.3,"z":2.25},{"k":"Z","lo":2.3,"hi":2.4,"z":2.35},{"k":"Z","lo":2.4,"hi":2.5,"z":2.45}
]},"mark":{"type":"rect","strokeWidth":1},"encoding":{
"x":{"field":"k","type":"nominal","scale":{"range":[897,946],"paddingInner":0,"paddingOuter":0},"axis":null},
"y":{"field":"lo","type":"quantitative","scale":{"domain":[-2.5,2.45],"range":[747,547],"nice":false,"zero":false},"axis":{"orient":"left","offset":-897,"domain":false,"grid":false,"values":[-2,-1,0,1,2],"labelExpr":"format(datum.value,'d') === '0' ? '0' : (datum.value < 0 ? '-' + abs(datum.value) : '' + datum.value)","tickColor":"#444","tickSize":5,"labelAngle":-90,"labelAlign":"center","labelBaseline":"bottom","labelFont":"Liberation Sans","labelFontSize":22,"labelColor":"#333","labelPadding":3,"title":"Z(ζ)","titleFont":"Liberation Sans","titleFontWeight":"normal","titleFontSize":35,"titleColor":"#222","titleX":-52,"titleY":643,"titleAngle":-90,"titleBaseline":"middle","titleAlign":"center"}},"y2":{"field":"hi"},
"color":{"field":"z","type":"quantitative","scale":{"domain":[-2.45,0,2.45],"range":["#0000ff","#000000","#ff0000"],"interpolate":"rgb"},"legend":null},
"stroke":{"field":"z","type":"quantitative","scale":{"domain":[-2.45,0,2.45],"range":["#0000ff","#000000","#ff0000"],"interpolate":"rgb"},"legend":null}}},
{"mark":{"type":"rect","x":215,"x2":268,"y":329,"y2":343,"fill":"#595959"},"encoding":{}},
{"mark":{"type":"point","shape":"M-1,-1L1,0L-1,1Z","size":1600,"filled":true,"opacity":1,"color":"#595959","x":287,"y":336},"encoding":{}},
{"mark":{"type":"rect","y":597,"y2":632,"x":583,"x2":597,"fill":"#595959"},"encoding":{}},
{"mark":{"type":"point","shape":"M-1,-0.8L1,-0.8L0,0.8Z","size":1600,"filled":true,"opacity":1,"color":"#595959","x":591,"y":647},"encoding":{}},
{"mark":{"type":"text","style":"lab","text":"A","fontSize":58,"x":36,"y":138},"encoding":{}},
{"mark":{"type":"text","style":"lab","text":"B","fontSize":60,"x":316,"y":132},"encoding":{}},
{"mark":{"type":"text","style":"lab","text":"high-","x":98,"y":66},"encoding":{}},
{"mark":{"type":"text","style":"lab","text":"dimensional","x":98,"y":98},"encoding":{}},
{"mark":{"type":"text","style":"lab","text":"data set","x":98,"y":130},"encoding":{}},
{"mark":{"type":"text","style":"lab","text":"subtype :","x":235,"y":165},"encoding":{}},
{"mark":{"type":"text","style":"lab","text":"subC","x":234,"y":271},"encoding":{}},
{"mark":{"type":"text","style":"lab","text":"transform","x":210,"y":302},"encoding":{}},
{"mark":{"type":"text","style":"eqi","text":"ζ","x":359,"y":102},"encoding":{}},
{"mark":{"type":"text","style":"eqi","text":"j","fontSize":20,"fill":"#555","x":381,"y":109},"encoding":{}},
{"mark":{"type":"text","style":"eq","text":"= tanh","x":403,"y":102},"encoding":{}},
{"mark":{"type":"text","style":"eq","text":"−1","fontSize":23,"x":497,"y":85},"encoding":{}},
{"mark":{"type":"text","style":"eq","text":"(","x":523,"y":102},"encoding":{}},
{"mark":{"type":"text","style":"eqi","text":"r","x":536,"y":102},"encoding":{}},
{"mark":{"type":"text","style":"eq","text":"(","x":551,"y":102},"encoding":{}},
{"mark":{"type":"text","style":"eqb","text":"c","x":563,"y":102},"encoding":{}},
{"mark":{"type":"text","style":"eqi","text":"j","fontSize":20,"fill":"#555","x":585,"y":109},"encoding":{}},
{"mark":{"type":"text","style":"eq","text":",","x":597,"y":102},"encoding":{}},
{"mark":{"type":"text","style":"eqb","text":"x","x":611,"y":102},"encoding":{}},
{"mark":{"type":"text","style":"eq","text":")),","x":630,"y":102},"encoding":{}},
{"mark":{"type":"text","style":"eqi","text":"j","x":702,"y":102},"encoding":{}},
{"mark":{"type":"text","style":"eq","text":"=","x":720,"y":102},"encoding":{}},
{"mark":{"type":"text","style":"eq","text":"1","x":755,"y":102},"encoding":{}},
{"mark":{"type":"text","style":"eq","text":",","x":772,"y":102},"encoding":{}},
{"mark":{"type":"text","style":"eq","text":"…","fontSize":28,"x":782,"y":102},"encoding":{}},
{"mark":{"type":"text","style":"eq","text":",","x":811,"y":102},"encoding":{}},
{"mark":{"type":"text","style":"eq","text":"6,","x":824,"y":102},"encoding":{}},
{"mark":{"type":"text","style":"eqi","text":"ξ","fontSize":36,"x":217,"y":723},"encoding":{}},
{"mark":{"type":"text","style":"eq","text":"= log","fontSize":36,"x":243,"y":723},"encoding":{}},
{"mark":{"type":"arc","x":407,"y":717,"theta":4.15,"theta2":5.274,"radius":91.5,"radius2":90,"fill":"#222"},"encoding":{}},
{"mark":{"type":"arc","x":384,"y":717,"theta":1.009,"theta2":2.133,"radius":91.5,"radius2":90,"fill":"#222"},"encoding":{}},
{"mark":{"type":"text","style":"eqi","text":"λ(t | z, x)","fontSize":33,"x":336,"y":703},"encoding":{}},
{"mark":{"type":"rect","x":332,"x2":459,"y":714,"y2":715.5,"fill":"#333"},"encoding":{}},
{"mark":{"type":"text","style":"eqi","text":"λ","fontSize":33,"x":362,"y":752},"encoding":{}},
{"mark":{"type":"text","style":"eq","text":"0","fontSize":18,"x":380,"y":758},"encoding":{}},
{"mark":{"type":"text","style":"eqi","text":"(t)","fontSize":33,"x":393,"y":752},"encoding":{}},
{"mark":{"type":"text","style":"eq","text":"=","fontSize":36,"x":483,"y":723},"encoding":{}},
{"mark":{"type":"text","style":"eqi","text":"β","fontSize":36,"x":510,"y":723},"encoding":{}},
{"mark":{"type":"text","style":"eq","text":"0","fontSize":18,"x":531,"y":730},"encoding":{}},
{"mark":{"type":"text","style":"eqi","text":"z","fontSize":36,"x":545,"y":723},"encoding":{}},
{"mark":{"type":"text","style":"eq","text":"+","fontSize":36,"x":566,"y":723},"encoding":{}},
{"mark":{"type":"text","style":"eqi","text":"β","fontSize":36,"x":592,"y":723},"encoding":{}},
{"mark":{"type":"text","style":"eqi","text":"T","fontSize":20,"x":616,"y":706},"encoding":{}},
{"mark":{"type":"text","style":"eq","text":"·","fontSize":36,"x":637,"y":723},"encoding":{}},
{"mark":{"type":"text","style":"eqi","text":"ζ′","fontSize":36,"x":650,"y":723},"encoding":{}},
{"mark":{"type":"text","style":"eq","text":"+","fontSize":36,"x":686,"y":723},"encoding":{}},
{"mark":{"type":"text","style":"eqi","text":"z","fontSize":36,"x":714,"y":723},"encoding":{}},
{"mark":{"type":"text","style":"eqi","text":"γ","fontSize":36,"x":735,"y":723},"encoding":{}},
{"mark":{"type":"text","style":"eqi","text":"T","fontSize":20,"x":759,"y":706},"encoding":{}},
{"mark":{"type":"text","style":"eq","text":"·","fontSize":36,"x":777,"y":723},"encoding":{}},
{"mark":{"type":"text","style":"eqi","text":"ζ′","fontSize":36,"x":790,"y":723},"encoding":{}},
{"mark":{"type":"text","style":"capb","text":"Fig. 1","x":28,"y":795},"encoding":{}},
{"mark":{"type":"text","style":"cap","text":"Projection onto CRC subtypes reduces the input gene expression data set to a 6-dimensional space.","x":87,"y":795},"encoding":{}},
{"mark":{"type":"text","style":"cap","text":"The example shown here is for the LP subtyping scheme defined by Marisa et al. [","x":28,"y":822},"encoding":{}},
{"mark":{"type":"text","style":"capl","text":"17","x":734,"y":822},"encoding":{}},
{"mark":{"type":"text","style":"cap","text":"]. Starting from the full","x":757,"y":822},"encoding":{}},
{"mark":{"type":"text","style":"cap","text":"gene expression matrix (","x":28,"y":849},"encoding":{}},
{"mark":{"type":"text","style":"capb","text":"a","x":242,"y":849},"encoding":{}},
{"mark":{"type":"text","style":"cap","text":"), transformation by Eq.(","x":253,"y":849},"encoding":{}},
{"mark":{"type":"text","style":"capl","text":"4","x":463,"y":849},"encoding":{}},
{"mark":{"type":"text","style":"cap","text":") (reproduced at the top of figure","x":474,"y":849},"encoding":{}},
{"mark":{"type":"text","style":"capb","text":"b","x":763,"y":849},"encoding":{}},
{"mark":{"type":"text","style":"cap","text":") generates the 6 ×","x":775,"y":849},"encoding":{}},
{"mark":{"type":"text","style":"cap","text":"209 matrix of ζ coefficients shown as a red-blue heat map (","x":28,"y":876},"encoding":{}},
{"mark":{"type":"text","style":"capb","text":"b","x":541,"y":876},"encoding":{}},
{"mark":{"type":"text","style":"cap","text":"), with the corresponding discrete subtype","x":553,"y":876},"encoding":{}},
{"mark":{"type":"text","style":"cap","text":"assignments indicated by the colored bar at the top. The subC regression model uses the ζ coefficients as","x":28,"y":903},"encoding":{}},
{"mark":{"type":"text","style":"cap","text":"covariates (Eq.(","x":28,"y":929},"encoding":{}},
{"mark":{"type":"text","style":"capl","text":"5","x":159,"y":929},"encoding":{}},
{"mark":{"type":"text","style":"cap","text":"), reproduced at the bottom of figure","x":170,"y":929},"encoding":{}},
{"mark":{"type":"text","style":"capb","text":"b","x":492,"y":929},"encoding":{}},
{"mark":{"type":"text","style":"cap","text":")","x":505,"y":929},"encoding":{}}
]}
